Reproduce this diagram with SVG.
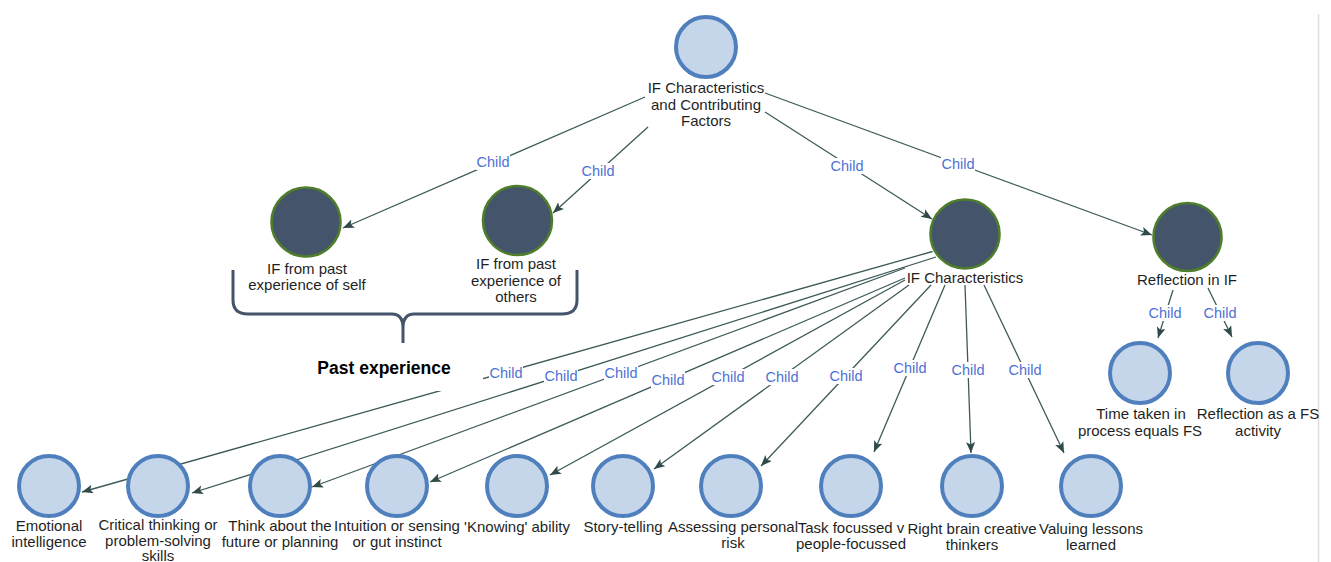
<svg xmlns="http://www.w3.org/2000/svg" width="1331" height="562" viewBox="0 0 1331 562">
  <style>
    .edge { stroke: #3d5a59; stroke-width: 1.3; fill: none; marker-end: url(#arrow); }
    .lbl { font-family: "Liberation Sans", Arial, sans-serif; font-size: 15px; fill: #1f1f1f; text-anchor: middle; }
    .child { font-family: "Liberation Sans", Arial, sans-serif; font-size: 14.5px; fill: #4f72d4; text-anchor: middle; }
    .tagbg { fill: #ffffff; }
    .light { fill: #c5d6ea; stroke: #4f80bd; stroke-width: 4; }
    .dark { fill: #44546a; stroke: #4e7d2c; stroke-width: 2.6; }
  </style>
  <defs>
    <marker id="arrow" markerUnits="userSpaceOnUse" markerWidth="12" markerHeight="10" refX="11" refY="4.5" orient="auto">
      <path d="M0,0 L11,4.5 L0,9 L2.5,4.5 Z" fill="#2f4a49"/>
    </marker>
  </defs>

  <rect width="1331" height="562" fill="#ffffff"/>
  <line x1="1318.5" y1="14" x2="1318.5" y2="562" stroke="#dddddd" stroke-width="1.5"/>

  <!-- connectors -->
  <g id="connectors">
    <line class="edge" x1="645" y1="97" x2="343" y2="228"/>
    <line class="edge" x1="648" y1="127" x2="553" y2="213"/>
    <line class="edge" x1="765" y1="112" x2="932" y2="219"/>
    <line class="edge" x1="765" y1="93" x2="1152" y2="235"/>

    <line class="edge" x1="932.5" y1="251.5" x2="82" y2="492"/>
    <line class="edge" x1="936" y1="257" x2="192" y2="493"/>
    <line class="edge" x1="905" y1="268" x2="312" y2="487"/>
    <line class="edge" x1="905" y1="278" x2="430" y2="482"/>
    <line class="edge" x1="905" y1="280" x2="550" y2="475"/>
    <line class="edge" x1="909" y1="285" x2="654" y2="469"/>
    <line class="edge" x1="931" y1="285" x2="761" y2="466"/>
    <line class="edge" x1="945" y1="285" x2="874" y2="452"/>
    <line class="edge" x1="965" y1="285" x2="971" y2="453"/>
    <line class="edge" x1="984" y1="285" x2="1064" y2="453"/>

    <line class="edge" x1="1173" y1="290" x2="1158" y2="338"/>
    <line class="edge" x1="1208" y1="288" x2="1232" y2="337"/>

    <!-- connector tags -->
    <g id="tags">
      <rect class="tagbg" x="476" y="154" width="34" height="16"/><text class="child" x="493" y="167">Child</text>
      <rect class="tagbg" x="581" y="163" width="34" height="16"/><text class="child" x="598" y="176">Child</text>
      <rect class="tagbg" x="830" y="158" width="34" height="16"/><text class="child" x="847" y="171">Child</text>
      <rect class="tagbg" x="941" y="156" width="34" height="16"/><text class="child" x="958" y="169">Child</text>

      <rect class="tagbg" x="489" y="365" width="34" height="16"/><text class="child" x="506" y="378">Child</text>
      <rect class="tagbg" x="544" y="368" width="34" height="16"/><text class="child" x="561" y="381">Child</text>
      <rect class="tagbg" x="604" y="365" width="34" height="16"/><text class="child" x="621" y="378">Child</text>
      <rect class="tagbg" x="651" y="372" width="34" height="16"/><text class="child" x="668" y="385">Child</text>
      <rect class="tagbg" x="711" y="369" width="34" height="16"/><text class="child" x="728" y="382">Child</text>
      <rect class="tagbg" x="765" y="369" width="34" height="16"/><text class="child" x="782" y="382">Child</text>
      <rect class="tagbg" x="829" y="368" width="34" height="16"/><text class="child" x="846" y="381">Child</text>
      <rect class="tagbg" x="893" y="360" width="34" height="16"/><text class="child" x="910" y="373">Child</text>
      <rect class="tagbg" x="951" y="362" width="34" height="16"/><text class="child" x="968" y="375">Child</text>
      <rect class="tagbg" x="1008" y="362" width="34" height="16"/><text class="child" x="1025" y="375">Child</text>

      <rect class="tagbg" x="1148" y="305" width="34" height="16"/><text class="child" x="1165" y="318">Child</text>
      <rect class="tagbg" x="1203" y="305" width="34" height="16"/><text class="child" x="1220" y="318">Child</text>
    </g>
  </g>

  <!-- grouping brace and caption -->
  <g id="past-experience">
    <path d="M233,270 L233,300 Q233,314 248,314 L392,314 Q403,314 403,328 L403,343 M403,343 L403,328 Q403,314 414,314 L562,314 Q577,314 577,300 L577,270"
          fill="none" stroke="#44546a" stroke-width="3"/>
    <rect x="300" y="350" width="183" height="41" fill="#ffffff"/>
    <text x="384" y="374" font-family="'Liberation Sans', Arial, sans-serif" font-size="17.5" font-weight="bold" fill="#000000" text-anchor="middle">Past experience</text>
  </g>

  <!-- nodes -->
  <g id="node-root">
    <circle class="light" cx="706" cy="47" r="30"/>
    <text class="lbl" x="706" y="93">IF Characteristics</text>
    <text class="lbl" x="706" y="110">and Contributing</text>
    <text class="lbl" x="706" y="126">Factors</text>
  </g>
  <g id="node-self">
    <circle class="dark" cx="306" cy="222" r="34.5"/>
    <text class="lbl" x="307" y="274">IF from past</text>
    <text class="lbl" x="307" y="290">experience of self</text>
  </g>
  <g id="node-others">
    <circle class="dark" cx="517.5" cy="220.5" r="34.5"/>
    <text class="lbl" x="516" y="269">IF from past</text>
    <text class="lbl" x="516" y="286">experience of</text>
    <text class="lbl" x="516" y="302">others</text>
  </g>
  <g id="node-characteristics">
    <circle class="dark" cx="965" cy="234" r="34.5"/>
    <text class="lbl" x="965" y="283">IF Characteristics</text>
  </g>
  <g id="node-reflection">
    <circle class="dark" cx="1187.5" cy="237" r="34"/>
    <text class="lbl" x="1187" y="285">Reflection in IF</text>
  </g>

  <g id="node-time-taken">
    <circle class="light" cx="1140" cy="373" r="30"/>
    <text class="lbl" x="1141" y="419">Time taken in</text>
    <text class="lbl" x="1140" y="436">process equals FS</text>
  </g>
  <g id="node-reflection-fs">
    <circle class="light" cx="1258" cy="373" r="30"/>
    <text class="lbl" x="1258" y="419">Reflection as a FS</text>
    <text class="lbl" x="1258" y="436">activity</text>
  </g>

  <g id="node-emotional">
    <circle class="light" cx="49" cy="486" r="30"/>
    <text class="lbl" x="49" y="531">Emotional</text>
    <text class="lbl" x="49" y="547">intelligence</text>
  </g>
  <g id="node-critical">
    <circle class="light" cx="158" cy="486" r="30"/>
    <text class="lbl" x="158" y="530">Critical thinking or</text>
    <text class="lbl" x="158" y="546">problem-solving</text>
    <text class="lbl" x="158" y="561">skills</text>
  </g>
  <g id="node-future">
    <circle class="light" cx="280" cy="486" r="30"/>
    <text class="lbl" x="280" y="531">Think about the</text>
    <text class="lbl" x="280" y="547">future or planning</text>
  </g>
  <g id="node-intuition">
    <circle class="light" cx="397" cy="486" r="30"/>
    <text class="lbl" x="397" y="531">Intuition or sensing</text>
    <text class="lbl" x="397" y="547">or gut instinct</text>
  </g>
  <g id="node-knowing">
    <circle class="light" cx="517" cy="486" r="30"/>
    <text class="lbl" x="517" y="532">'Knowing' ability</text>
  </g>
  <g id="node-story">
    <circle class="light" cx="623" cy="486" r="30"/>
    <text class="lbl" x="623" y="532">Story-telling</text>
  </g>
  <g id="node-risk">
    <circle class="light" cx="731" cy="486" r="30"/>
    <text class="lbl" x="733" y="532">Assessing personal</text>
    <text class="lbl" x="733" y="548">risk</text>
  </g>
  <g id="node-task">
    <circle class="light" cx="851" cy="486" r="30"/>
    <text class="lbl" x="851" y="533">Task focussed v</text>
    <text class="lbl" x="851" y="549">people-focussed</text>
  </g>
  <g id="node-right-brain">
    <circle class="light" cx="972" cy="486" r="30"/>
    <text class="lbl" x="972" y="534">Right brain creative</text>
    <text class="lbl" x="972" y="550">thinkers</text>
  </g>
  <g id="node-lessons">
    <circle class="light" cx="1091" cy="486" r="30"/>
    <text class="lbl" x="1091" y="534">Valuing lessons</text>
    <text class="lbl" x="1091" y="550">learned</text>
  </g>
</svg>
